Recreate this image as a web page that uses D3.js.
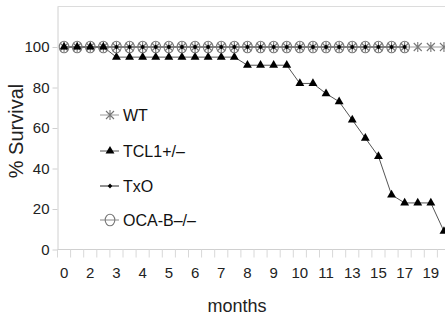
<!DOCTYPE html>
<html>
<head>
<meta charset="utf-8">
<script src="https://cdn.jsdelivr.net/npm/d3@7"></script>
<style>
  body { margin: 0; background: #fff; }
  svg { font-family: Arial, "Liberation Sans", sans-serif; }
</style>
</head>
<body>
<div id="chart"></div>
<script>
// categories along x (only every second one is labelled)
const months = ["0","1","2","2.5","3","3.5","4","4.5","5","5.5","6","6.5","7","7.5",
  "8","8.5","9","9.5","10","10.5","11","12","13","14","15","16","17","18","19","20"];
const yTicks = [0, 20, 40, 60, 80, 100];

// % survival per series
const wt   = [100,100,100,100,100,100,100,100,100,100,100,100,100,100,100,100,100,100,100,100,100,100,100,100,100,100,100,100,100,100];
const tcl1 = [100,100,100,100,95,95,95,95,95,95,95,95,95,95,91,91,91,91,82,82,77,73,64,55,46,27,23,23,23,9];
const txo  = [100,100,100,100,100,100,100,100,100,100,100,100,100,100,100,100,100,100,100,100,100,100,100,100,100,100,100];
const ocab = [100,100,100,100,100,100,100,100,100,100,100,100,100,100,100,100,100,100,100,100,100,100,100,100,100,100,100];

const width = 445, height = 318;
const mLeft = 57.5, mBottom = 249.5, mTop = 6.5, band = 13.1;

const svg = d3.select('#chart').append('svg')
  .attr('width', width).attr('height', height);

const x = d3.scaleBand(months, [mLeft, mLeft + band * months.length]).padding(0);
const y = d3.scaleLinear([0, 120], [mBottom, mTop]);
const cx = i => x(months[i]) + x.bandwidth() / 2;

// frame: top border
svg.append('line')
  .attr('x1', mLeft).attr('x2', width).attr('y1', y(120)).attr('y2', y(120))
  .attr('stroke', '#dcdcdc');

// y axis
const axisY = svg.append('g').attr('transform', `translate(${mLeft},0)`)
  .call(d3.axisLeft(y).tickValues(yTicks).tickSize(5).tickSizeOuter(0).tickPadding(3));
axisY.select('.domain').attr('stroke', '#d0d0d0');
axisY.selectAll('.tick line').attr('stroke', '#d0d0d0');
axisY.selectAll('.tick text').attr('font-size', 15).attr('fill', '#222')
  .attr('font-family', 'Arial, "Liberation Sans", sans-serif');

// x axis: ticks at band boundaries, labels on every second category
const axisX = svg.append('g').attr('transform', `translate(0,${mBottom})`);
axisX.append('line').attr('x1', mLeft).attr('x2', width).attr('stroke', '#d0d0d0');
axisX.selectAll('line.tk').data(months).join('line').classed('tk', true)
  .attr('x1', d => x(d)).attr('x2', d => x(d)).attr('y1', 0).attr('y2', 8)
  .attr('stroke', '#d8d8d8');
axisX.selectAll('text').data(months.filter((d, i) => i % 2 === 0)).join('text')
  .attr('x', d => x(d) + x.bandwidth() / 2).attr('y', 28)
  .attr('text-anchor', 'middle').attr('font-size', 15).attr('fill', '#222')
  .text(d => d);

// axis titles
svg.append('text').attr('x', 237).attr('y', 312)
  .attr('text-anchor', 'middle').attr('font-size', 18).attr('fill', '#222').text('months');
svg.append('text').attr('transform', 'translate(23,131)rotate(-90)')
  .attr('text-anchor', 'middle').attr('font-size', 20).attr('fill', '#222').text('% Survival');

// marker drawers
const markers = {
  star: (g, color) => g.append('path')
    .attr('d', 'M-4,-4L4,4M-4,4L4,-4M0,-5L0,5')
    .attr('stroke', color).attr('stroke-width', 1.1).attr('fill', 'none'),
  tri: (g, color) => g.append('path')
    .attr('d', d3.symbol(d3.symbolTriangle, 34)()).attr('fill', color),
  dot: (g, color) => g.append('path')
    .attr('d', 'M0,-2.6L2.3,0L0,2.6L-2.3,0Z').attr('fill', color),
  ring: (g, color) => g.append('ellipse')
    .attr('rx', 4.8).attr('ry', 5.8).attr('fill', 'none')
    .attr('stroke', color).attr('stroke-width', 1.1)
};

const series = [
  {name: 'WT', values: wt, line: '#9a9a9a', mark: 'star', color: '#777'},
  {name: 'TCL1+/\u2013', values: tcl1, line: '#555', mark: 'tri', color: '#000'},
  {name: 'TxO', values: txo, line: '#222', mark: 'dot', color: '#000'},
  {name: 'OCA-B\u2013/\u2013', values: ocab, line: '#888', mark: 'ring', color: '#777'}
];

const line = d3.line().x((d, i) => cx(i)).y(d => y(d));

series.forEach(s => {
  svg.append('path').datum(s.values)
    .attr('d', line).attr('fill', 'none')
    .attr('stroke', s.line).attr('stroke-width', 1);
});
series.forEach(s => {
  s.values.forEach((v, i) => {
    const g = svg.append('g').attr('transform', `translate(${cx(i)},${y(v)})`);
    markers[s.mark](g, s.color);
  });
});

// legend
const legendY = [115, 151, 186, 220];
series.forEach((s, i) => {
  const g = svg.append('g').attr('transform', `translate(100,${legendY[i]})`);
  g.append('line').attr('x1', 0).attr('x2', 19).attr('stroke', s.line);
  markers[s.mark](g.append('g').attr('transform', 'translate(10,0)'), s.color);
  g.append('text').attr('x', 23).attr('y', 6)
    .attr('font-size', 16).attr('fill', '#111').text(s.name);
});
</script>
</body>
</html>
